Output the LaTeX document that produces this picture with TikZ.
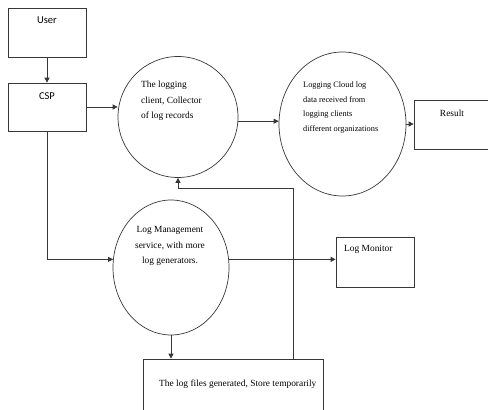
\documentclass[tikz,border=0pt]{standalone}
\usepackage{fontspec}
\setmainfont{Liberation Serif}
\newfontfamily\calibrifont{Carlito}
\usetikzlibrary{positioning}
\usetikzlibrary{calc}
\usetikzlibrary{arrows.meta}
\usetikzlibrary{shapes.geometric}
\definecolor{edge}{RGB}{55,55,55}

\begin{document}
\begin{tikzpicture}[x=1pt, y=-1pt,
    every node/.style={font=\fontsize{9.4}{15.5}\selectfont, inner sep=0pt},
    box/.style={draw=edge, line width=0.7pt, rectangle},
    bubble/.style={draw=edge, line width=0.7pt, ellipse},
    flow/.style={draw=edge, line width=0.7pt, -{Triangle[length=5pt, width=5pt]}},
    wire/.style={draw=edge, line width=0.7pt}]
    \useasboundingbox (0,0) rectangle (488,410);

    % boxes
    \node[box, minimum width=78pt, minimum height=49pt] (user) at (47,32.5) {};
    \node[box, minimum width=78pt, minimum height=48pt] (csp) at (47,107) {};
    \node[box, minimum width=76pt, minimum height=49pt] (result) at (452,124.5) {};
    \node[box, minimum width=78pt, minimum height=50pt] (monitor) at (375,262) {};
    \node[box, minimum width=180pt, minimum height=70pt] (files) at (233,394) {};

    % bubbles
    \node[bubble, minimum width=120pt, minimum height=121pt] (client) at (178,117) {};
    \node[bubble, minimum width=127pt, minimum height=144pt] (cloud) at (342.5,124) {};
    \node[bubble, minimum width=116pt, minimum height=135pt] (mgmt) at (171,267.5) {};

    % texts
    \node[font=\calibrifont\fontsize{10.5}{12}\selectfont] (user-txt) at (47,20) {User};
    \node[font=\calibrifont\fontsize{10.5}{12}\selectfont] (csp-txt) at (47,96) {CSP};
    \node[align=left, anchor=west] (client-txt) at (141,101)
        {The logging\\client, Collector\\of log records};
    \node[align=left, anchor=west, font=\fontsize{8.3}{14.8}\selectfont] (cloud-txt) at (303,107.5)
        {Logging Cloud log\\data received from\\logging clients\\different organizations};
    \node[align=center] (mgmt-txt) at (170,246)
        {Log Management\\service, with more\\log generators.};
    \node (result-txt) at (452,113) {Result};
    \node[anchor=west] (monitor-txt) at (344,249) {Log Monitor};
    \node[anchor=west] (files-txt) at (159,384) {The log files generated, Store temporarily};

    % connectors
    \draw[flow] (user.south) -- (csp.north);
    \draw[flow] (csp.east) -- (client.west |- csp.east);
    \draw[flow] (client.-4) -- (cloud.west |- client.-4);
    \draw[flow] (cloud.east) -- (cloud.east -| result.west);
    \draw[flow] (csp.south) |- (mgmt.172);
    \draw[flow] (mgmt.8) -- (mgmt.8 -| monitor.west);
    \draw[flow] (mgmt.south) -- (mgmt.south |- files.north);
    \draw[flow] ($(files.north)!0.667!(files.north east)$) |- ([yshift=-10pt]client.south) -- (client.south);
\end{tikzpicture}
\end{document}
